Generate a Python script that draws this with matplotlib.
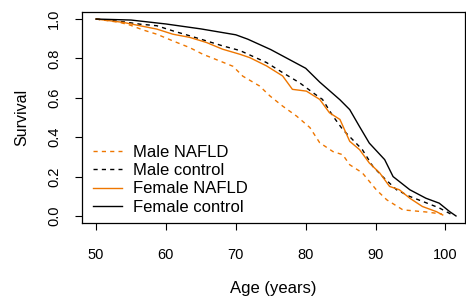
import matplotlib
matplotlib.use("Agg")
import matplotlib.pyplot as plt

plt.rcParams['font.family'] = ['Liberation Sans', 'DejaVu Sans']

# survival curves (age, survival)
male_nafld_age = [50, 53.4, 54.9, 56.7, 58.7, 61, 63.4, 65.3, 67.5, 69.6, 71, 73.4, 74.9,
                  76.7, 78.7, 80.6, 82, 83.9, 85.3, 86.3, 88.1, 90.1, 91.6, 93.9, 97.3, 99.5]
male_nafld_surv = [1.0, 0.983, 0.969, 0.945, 0.923, 0.889, 0.855, 0.821, 0.79, 0.76, 0.71, 0.66, 0.609,
                   0.558, 0.507, 0.449, 0.372, 0.327, 0.311, 0.26, 0.219, 0.133, 0.082, 0.031, 0.02, 0.01]

male_ctrl_age = [50, 53.9, 56.3, 58.7, 61, 63.4, 65.8, 68.1, 70.6, 74.4, 76.7, 79.1, 81.7,
                 82.4, 83.9, 85.3, 86.7, 88.1, 89.6, 91, 93, 94.9, 97.3, 99.1, 101]
male_ctrl_surv = [1.0, 0.986, 0.974, 0.966, 0.94, 0.915, 0.889, 0.864, 0.84, 0.779, 0.728, 0.677, 0.609,
                  0.592, 0.507, 0.439, 0.388, 0.337, 0.252, 0.2, 0.133, 0.099, 0.066, 0.041, 0.005]

fem_nafld_age = [50, 53.9, 56.3, 58.7, 61, 63.4, 65.8, 68.1, 70.6, 72, 74.4, 76.7, 78.1, 80.1,
                 82, 83.4, 84.9, 86.3, 87.7, 89.1, 90.6, 92, 93.4, 94.9, 96.7, 98.7, 99.6]
fem_nafld_surv = [1.0, 0.983, 0.966, 0.949, 0.923, 0.907, 0.881, 0.847, 0.821, 0.804, 0.762, 0.711, 0.643, 0.634,
                  0.592, 0.524, 0.49, 0.379, 0.337, 0.269, 0.218, 0.15, 0.133, 0.09, 0.048, 0.022, 0.005]

fem_ctrl_age = [50, 55, 60, 65, 70, 71.7, 75, 80, 82, 84.9, 86.3, 87.7, 89.1, 91.3,
                92.5, 94.9, 97.2, 99.1, 100.6, 101.5]
fem_ctrl_surv = [1.0, 0.995, 0.975, 0.95, 0.92, 0.898, 0.845, 0.75, 0.68, 0.59, 0.54, 0.454, 0.37, 0.286,
                 0.2, 0.133, 0.09, 0.065, 0.022, 0.0]

orange = '#EE7600'

fig = plt.figure(figsize=(4.66, 2.99), dpi=100)
ax = fig.add_axes([0.176, 0.254, 0.822, 0.706])

ax.plot(male_nafld_age, male_nafld_surv, color=orange, lw=1, ls=(0, (3, 3)), label='Male NAFLD')
ax.plot(male_ctrl_age, male_ctrl_surv, color='black', lw=1, ls=(0, (3, 3)), label='Male control')
ax.plot(fem_nafld_age, fem_nafld_surv, color=orange, lw=1, label='Female NAFLD')
ax.plot(fem_ctrl_age, fem_ctrl_surv, color='black', lw=1, label='Female control')

ax.set_xlim(48, 102.8)
ax.set_ylim(-0.036, 1.036)
ax.set_xticks([50, 60, 70, 80, 90, 100])
ax.set_yticks([0.0, 0.2, 0.4, 0.6, 0.8, 1.0])
ax.set_yticklabels(['0.0', '0.2', '0.4', '0.6', '0.8', '1.0'], rotation=90, va='center')
ax.tick_params(labelsize=10.5, length=5, width=0.8)
ax.tick_params(axis='x', pad=13)
ax.tick_params(axis='y', pad=10)
for s in ax.spines.values():
    s.set_linewidth(0.9)

ax.set_xlabel('Age (years)', fontsize=12, labelpad=14)
ax.set_ylabel('Survival', fontsize=11.5, labelpad=13)

ax.legend(loc='lower left', bbox_to_anchor=(0.029, 0.04), frameon=False, fontsize=12,
          handlelength=1.75, handletextpad=0.65, labelspacing=0.19, borderpad=0, borderaxespad=0)

fig.savefig('out.png', dpi=100)
